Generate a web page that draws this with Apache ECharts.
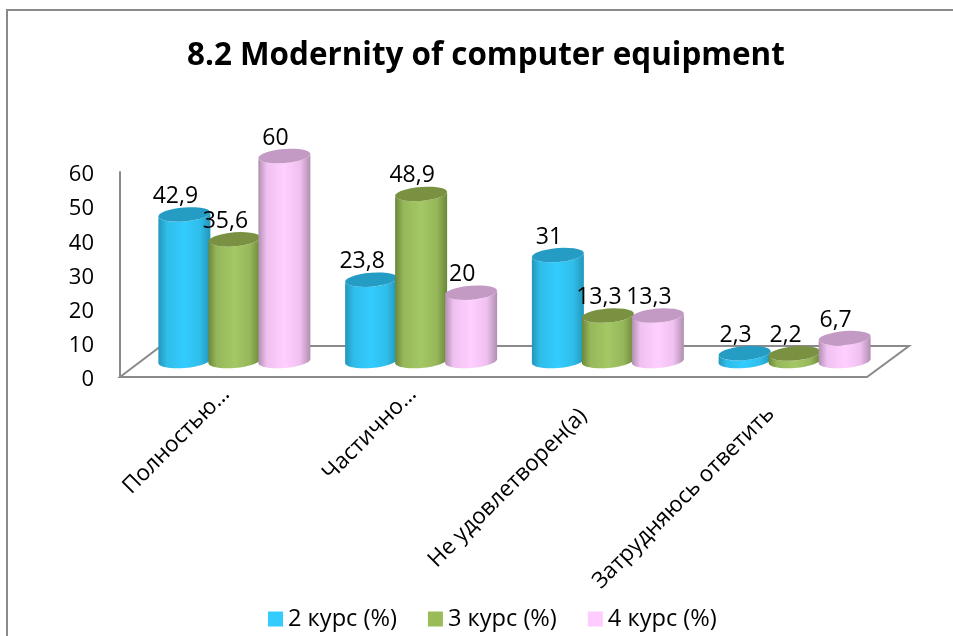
<!DOCTYPE html>
<html>
<head>
<meta charset="utf-8">
<script src="https://cdn.jsdelivr.net/npm/echarts@6/dist/echarts.min.js"></script>
<style>html,body{margin:0;padding:0;background:#fff}#c{width:953px;height:636px}</style>
</head>
<body>
<div id="c"></div>
<script>
var categories = ['Полностью…', 'Частично…', 'Не удовлетворен(а)', 'Затрудняюсь ответить'];
var seriesNames = ['2 курс (%)', '3 курс (%)', '4 курс (%)'];
var course2 = [42.9, 23.8, 31, 2.3];
var course3 = [35.6, 48.9, 13.3, 2.2];
var course4 = [60, 20, 13.3, 6.7];
var axisMax = 60;
var axisStep = 10;
var titleText = '8.2 Modernity of computer equipment';

var FONT = '"Open Sans","Noto Sans","DejaVu Sans",sans-serif';
var GREY = '#8a8a8a';
var DEPTH_X = 21, DEPTH_Y = 16, RX = 26, RY = 7, TILT = -2;
var labelPadding = [[7, 0, 0, 0], [7, 0, 0, 0], [11, 27, 0, 0], [10, 25, 0, 0]];
var palettes = [
  {legend:'#33ccff', mid:'#33ccff', soft:'#2fbde9', edge:'#2396bb', top:'#259cc4'},
  {legend:'#9bbb59', mid:'#a4c865', soft:'#96b75a', edge:'#6c8739', top:'#7a9142'},
  {legend:'#ffccff', mid:'#ffd0ff', soft:'#f0c0f0', edge:'#b08fb0', top:'#c39ac3'}
];

function arc(cx, cy, from, to) {
  var pts = [], n = 28;
  for (var k = 0; k <= n; k++) {
    var t = from + (to - from) * k / n;
    var x = RX * Math.cos(t), y = RY * Math.sin(t);
    pts.push([cx + x, cy + y + TILT * x / RX]);
  }
  return pts;
}

function cylinder(seriesIndex) {
  var pal = palettes[seriesIndex];
  var shift = (seriesIndex - 1) * 50;
  return function (params, api) {
    var v = api.value(1);
    var top = api.coord([api.value(0), v]);
    var base = api.coord([api.value(0), 0]);
    var cx = top[0] + DEPTH_X + shift;
    var yt = top[1] - DEPTH_Y, yb = base[1] - DEPTH_Y;
    var side = arc(cx, yb, 0, Math.PI).concat(arc(cx, yt, Math.PI, 0));
    return {
      type: 'group',
      children: [
        {type: 'polygon', shape: {points: side}, style: {
          fill: new echarts.graphic.LinearGradient(0, 0, 1, 0, [
            {offset: 0, color: pal.edge}, {offset: 0.16, color: pal.soft},
            {offset: 0.5, color: pal.mid}, {offset: 0.8, color: pal.soft},
            {offset: 1, color: pal.edge}
          ])}},
        {type: 'polygon', shape: {points: arc(cx, yt, 0, Math.PI * 2)}, style: {fill: pal.top}},
        {type: 'text', z2: 50, style: {
          text: String(v).replace('.', ','), x: cx - 9, y: yt - 18,
          fill: '#000', font: '23px ' + FONT, align: 'center', verticalAlign: 'middle'}}
      ]
    };
  };
}

function floor(params, api) {
  var c = params.coordSys;
  var x0 = c.x, x1 = c.x + c.width, y0 = c.y + c.height, dx = 41, dy = 31;
  return {
    type: 'polygon',
    shape: {points: [[x0, y0], [x0 + dx, y0 - dy], [x1 + dx + 1, y0 - dy], [x1, y0]]},
    style: {fill: '#fff', stroke: GREY, lineWidth: 2}
  };
}

function rows(values) { return values.map(function (v, i) { return [i, v]; }); }

var option = {
  animation: false,
  backgroundColor: '#fff',
  title: {text: titleText, left: 187, top: 41, padding: 0,
    textStyle: {fontFamily: FONT, fontSize: 31.4, fontWeight: 'bold', color: '#000'}},
  legend: {
    data: seriesNames, top: 607, left: 268, icon: 'rect', itemWidth: 15, itemHeight: 15, itemGap: 31, padding: 0,
    textStyle: {fontFamily: FONT, fontSize: 23.6, color: '#000'}
  },
  grid: {left: 120, right: 86, top: 172, bottom: 259},
  xAxis: {
    type: 'category',
    data: categories.map(function (name, i) {
      return {value: name, textStyle: {verticalAlign: 'top', padding: labelPadding[i]}};
    }),
    axisLine: {show: false}, axisTick: {show: false},
    axisLabel: {rotate: 45, interval: 0, margin: 1, fontFamily: FONT, fontSize: 22.4, color: '#000'}
  },
  yAxis: {
    type: 'value', min: 0, max: axisMax, interval: axisStep,
    axisLine: {show: true, lineStyle: {color: GREY, width: 2}},
    axisTick: {show: false}, splitLine: {show: false},
    axisLabel: {margin: 26, verticalAlign: 'top', lineHeight: 6, fontFamily: FONT, fontSize: 22, color: '#000'}
  },
  graphic: [
    {type: 'line', silent: true, shape: {x1: 7, y1: 9, x2: 7, y2: 636}, style: {stroke: GREY, lineWidth: 2}},
    {type: 'line', silent: true, shape: {x1: 6, y1: 10, x2: 953, y2: 10}, style: {stroke: GREY, lineWidth: 2}}
  ],
  series: [
    {type: 'custom', name: 'floor', renderItem: floor, data: [[0, 0]], silent: true, clip: false, z: 1},
    {type: 'custom', name: seriesNames[0], renderItem: cylinder(0), data: rows(course2), encode: {x: 0, y: 1},
      itemStyle: {color: palettes[0].legend}, clip: false, z: 2},
    {type: 'custom', name: seriesNames[1], renderItem: cylinder(1), data: rows(course3), encode: {x: 0, y: 1},
      itemStyle: {color: palettes[1].legend}, clip: false, z: 3},
    {type: 'custom', name: seriesNames[2], renderItem: cylinder(2), data: rows(course4), encode: {x: 0, y: 1},
      itemStyle: {color: palettes[2].legend}, clip: false, z: 4}
  ]
};
echarts.init(document.getElementById('c'), null, {renderer: 'canvas'}).setOption(option);
</script>
</body>
</html>
